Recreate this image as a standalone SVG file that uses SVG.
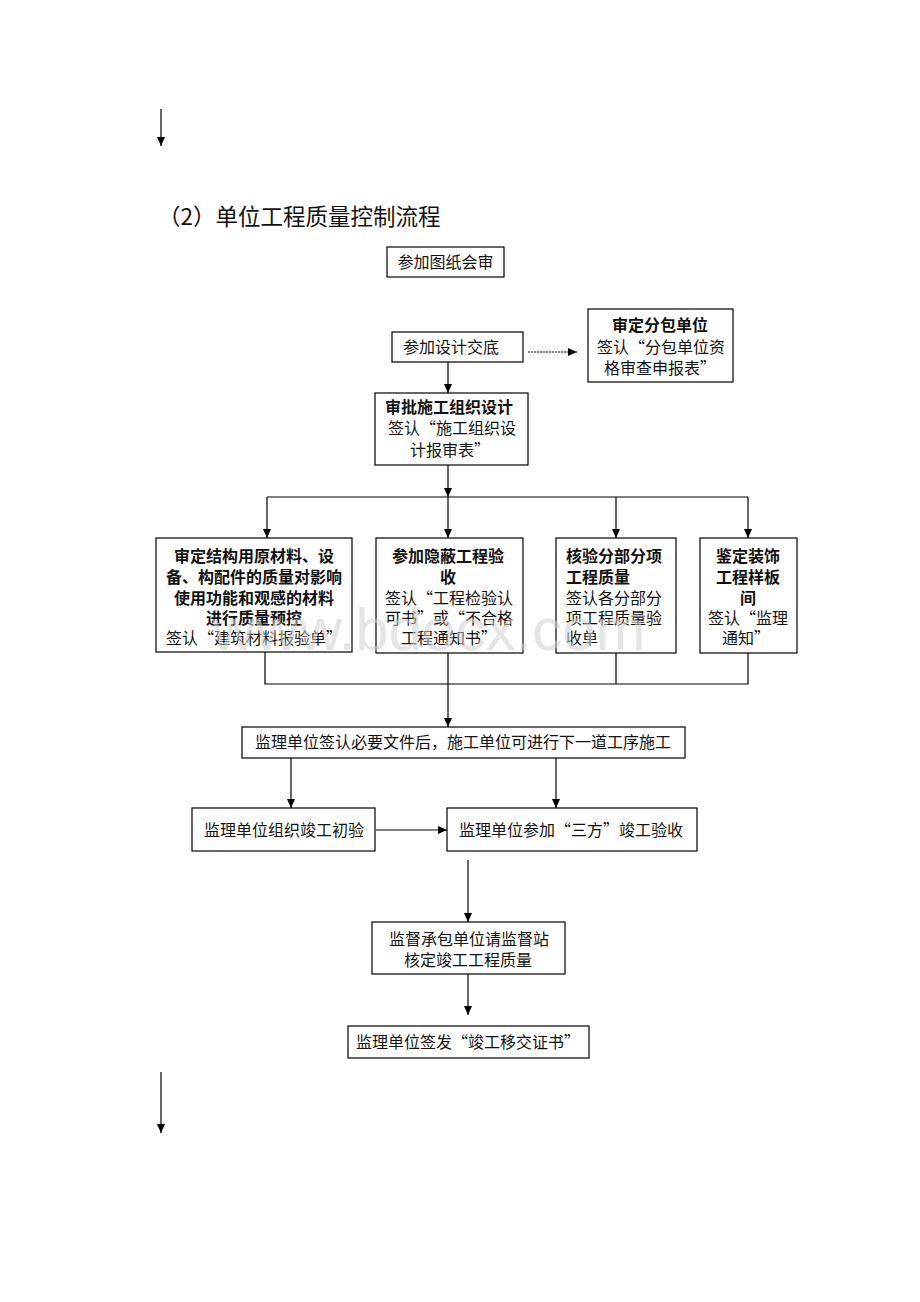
<svg xmlns="http://www.w3.org/2000/svg" width="920" height="1302" viewBox="0 0 920 1302">
<style>
  .bx { fill: #ffffff; stroke: #000000; stroke-width: 1.2; }
  .t { font-family: "Noto Sans CJK SC", "Liberation Serif", sans-serif; font-size: 16px; fill: #111111; }
  .b { font-weight: bold; }
  .c { text-anchor: middle; }
  .ln { fill: none; stroke: #000000; stroke-width: 1.2; }
  .ar { fill: none; stroke: #000000; stroke-width: 1.2; marker-end: url(#ah); }
  .dot { stroke-dasharray: 2 1; }
</style>
<defs>
  <marker id="ah" markerWidth="10" markerHeight="10" refX="9" refY="5" orient="auto" markerUnits="userSpaceOnUse">
    <path d="M0,1 L9,5 L0,9 z" fill="#000000"/>
  </marker>
</defs>
<rect width="920" height="1302" fill="#ffffff"/>

<text x="158" y="225" font-family="Noto Sans CJK SC, sans-serif" font-size="22.5" fill="#111111">（2）单位工程质量控制流程</text>

<g id="connectors">
  <path class="ar" d="M161,109 V146"/>
  <path class="ar" d="M448,362 V393"/>
  <path class="ar dot" d="M528,352 H577"/>
  <path class="ar" d="M448,465 V497"/>
  <path class="ln" d="M267,497 H748"/>
  <path class="ar" d="M267,497 V538"/>
  <path class="ar" d="M448,497 V538"/>
  <path class="ar" d="M616,497 V538"/>
  <path class="ar" d="M748,497 V538"/>
  <path class="ln" d="M265,652 V684 H748 V653"/>
  <path class="ln" d="M616,653 V684"/>
  <path class="ar" d="M448,653 V727"/>
  <path class="ar" d="M291,758 V808"/>
  <path class="ar" d="M556,758 V808"/>
  <path class="ar" d="M376,830 H447"/>
  <path class="ar" d="M468,860 V922"/>
  <path class="ar" d="M468,974 V1015"/>
  <path class="ar" d="M161,1072 V1133"/>
</g>

<g id="n1">
  <rect class="bx" x="387" y="247" width="117" height="30"/>
  <text class="t c" x="445.5" y="268">参加图纸会审</text>
</g>
<g id="n2">
  <rect class="bx" x="392" y="332" width="131" height="30"/>
  <text class="t" x="403" y="353">参加设计交底</text>
</g>
<g id="n3">
  <rect class="bx" x="588" y="309" width="145" height="73"/>
  <text class="t b c" x="660" y="331">审定分包单位</text>
  <text class="t c" x="661" y="353">签认“分包单位资</text>
  <text class="t c" x="660" y="374">格审查申报表”</text>
</g>
<g id="n4">
  <rect class="bx" x="375" y="393" width="153" height="72"/>
  <text class="t b c" x="449" y="413">审批施工组织设计</text>
  <text class="t c" x="452" y="434">签认“施工组织设</text>
  <text class="t c" x="450" y="456">计报审表”</text>
</g>
<g id="n5">
  <rect class="bx" x="156" y="538" width="196" height="114"/>
  <text class="t b c" x="254" y="562">审定结构用原材料、设</text>
  <text class="t b c" x="254" y="583">备、构配件的质量对影响</text>
  <text class="t b c" x="254" y="604">使用功能和观感的材料</text>
  <text class="t b c" x="254" y="624">进行质量预控</text>
  <text class="t c" x="254" y="644">签认“建筑材料报验单”</text>
</g>
<g id="n6">
  <rect class="bx" x="376" y="538" width="147" height="115"/>
  <text class="t b c" x="448" y="562">参加隐蔽工程验</text>
  <text class="t b c" x="448" y="583">收</text>
  <text class="t c" x="449" y="604">签认“工程检验认</text>
  <text class="t c" x="449" y="624">可书”或“不合格</text>
  <text class="t c" x="449" y="644">工程通知书”</text>
</g>
<g id="n7">
  <rect class="bx" x="556" y="538" width="120" height="115"/>
  <text class="t b" x="566" y="562">核验分部分项</text>
  <text class="t b" x="566" y="583">工程质量</text>
  <text class="t" x="566" y="604">签认各分部分</text>
  <text class="t" x="566" y="624">项工程质量验</text>
  <text class="t" x="566" y="644">收单</text>
</g>
<g id="n8">
  <rect class="bx" x="700" y="538" width="97" height="115"/>
  <text class="t b c" x="748" y="562">鉴定装饰</text>
  <text class="t b c" x="748" y="583">工程样板</text>
  <text class="t b c" x="748" y="604">间</text>
  <text class="t c" x="748" y="624">签认“监理</text>
  <text class="t c" x="746" y="644">通知”</text>
</g>
<g id="n9">
  <rect class="bx" x="242" y="727" width="443" height="31"/>
  <text class="t c" x="463" y="748">监理单位签认必要文件后，施工单位可进行下一道工序施工</text>
</g>
<g id="n10">
  <rect class="bx" x="192" y="808" width="183" height="43"/>
  <text class="t c" x="284" y="836">监理单位组织竣工初验</text>
</g>
<g id="n11">
  <rect class="bx" x="447" y="808" width="250" height="43"/>
  <text class="t c" x="571" y="836">监理单位参加“三方”竣工验收</text>
</g>
<g id="n12">
  <rect class="bx" x="372" y="922" width="193" height="52"/>
  <text class="t c" x="469" y="945">监督承包单位请监督站</text>
  <text class="t c" x="468" y="966">核定竣工工程质量</text>
</g>
<g id="n13">
  <rect class="bx" x="348" y="1026" width="241" height="32"/>
  <text class="t c" x="468" y="1048">监理单位签发“竣工移交证书”</text>
</g>

<text x="212" y="650" font-family="Liberation Sans, Arial, sans-serif" font-size="60" fill="#d0d0d0" fill-opacity="0.55">www.bdocx.com</text>
</svg>
